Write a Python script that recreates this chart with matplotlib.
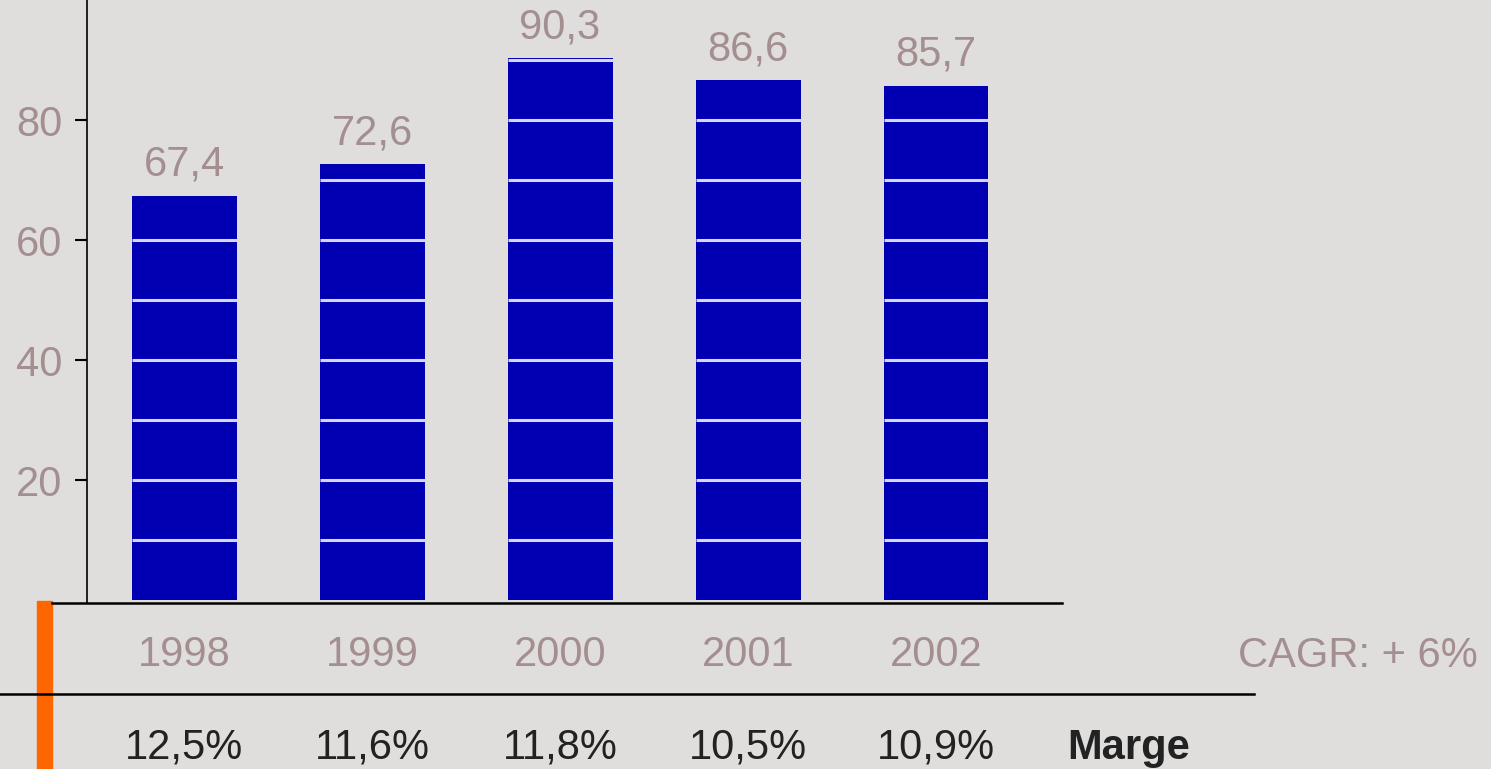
import matplotlib
matplotlib.use("Agg")
import matplotlib.pyplot as plt
from matplotlib.lines import Line2D
from matplotlib.patches import Rectangle
from matplotlib.transforms import blended_transform_factory

years = ["1998", "1999", "2000", "2001", "2002"]
values = [67.4, 72.6, 90.3, 86.6, 85.7]
value_labels = ["67,4", "72,6", "90,3", "86,6", "85,7"]
margins = ["12,5%", "11,6%", "11,8%", "10,5%", "10,9%"]
yticks = [20, 40, 60, 80]

W, H = 1491, 769
BG = "#E0DEDC"
BLUE = "#0000B2"
GREY = "#A38E90"
DARK = "#222222"

plt.rcParams["font.family"] = ["Liberation Sans", "DejaVu Sans"]
plt.rcParams["font.size"] = 30

fig = plt.figure(figsize=(W / 100, H / 100), dpi=100, facecolor=BG)

# axes: left at x=87px, right at 1062px, top at 0, bottom at 603px
ax = fig.add_axes([87 / W, 1 - 603 / H, (1062 - 87) / W, 603 / H])
ax.set_facecolor(BG)

x = list(range(len(years)))
bw = 105 / 188
ax.bar(x, values, width=bw, color=BLUE, zorder=2)

# light stripes every 10 units inside each bar
for xi, v in zip(x, values):
    lvl = 10
    while lvl < v:
        ax.hlines(lvl, xi - bw / 2, xi + bw / 2, color="#D6D6EE", lw=2.2, zorder=3)
        lvl += 10

for xi, v, lab in zip(x, values, value_labels):
    ax.annotate(lab, (xi, v), xytext=(0, 14.5), textcoords="offset points",
                ha="center", va="baseline", color=GREY, fontsize=30)

ax.set_xlim(-97 / 188, 4 + 126 / 188)
ax.set_ylim(-0.5, 100)
ax.set_yticks(yticks)
ax.set_yticklabels([str(t) for t in yticks], color=GREY)
ax.tick_params(axis="y", length=8.5, width=1.5, pad=9, color="black")
ax.set_xticks([])
for s in ["top", "right", "bottom"]:
    ax.spines[s].set_visible(False)
ax.spines["left"].set_linewidth(1.2)

# year row and margin row
tr = blended_transform_factory(ax.transData, fig.transFigure)
for xi, yr, m in zip(x, years, margins):
    ax.text(xi, 1 - 666 / H, yr, transform=tr, ha="center", va="baseline",
            color=GREY, fontsize=30, clip_on=False)
    ax.text(xi, 1 - 759 / H, m, transform=tr, ha="center", va="baseline",
            color=DARK, fontsize=30, clip_on=False)

fig.text(1478 / W, 1 - 667 / H, "CAGR: + 6%", ha="right", va="baseline",
         color=GREY, fontsize=30)
fig.text(1067 / W, 1 - 759 / H, "Marge", ha="left", va="baseline",
         color=DARK, fontsize=30, fontweight="bold")

# base line, separator line, orange marker
fig.add_artist(Line2D([52 / W, 1062 / W], [1 - 603 / H] * 2, color="black", lw=1.8))
fig.add_artist(Line2D([0, 1254 / W], [1 - 694 / H] * 2, color="black", lw=1.8))
fig.add_artist(Rectangle((37 / W, 0), 15 / W, 1 - 601 / H, color="#FF6600",
                         transform=fig.transFigure))

fig.savefig("out.png", dpi=100, facecolor=BG)
